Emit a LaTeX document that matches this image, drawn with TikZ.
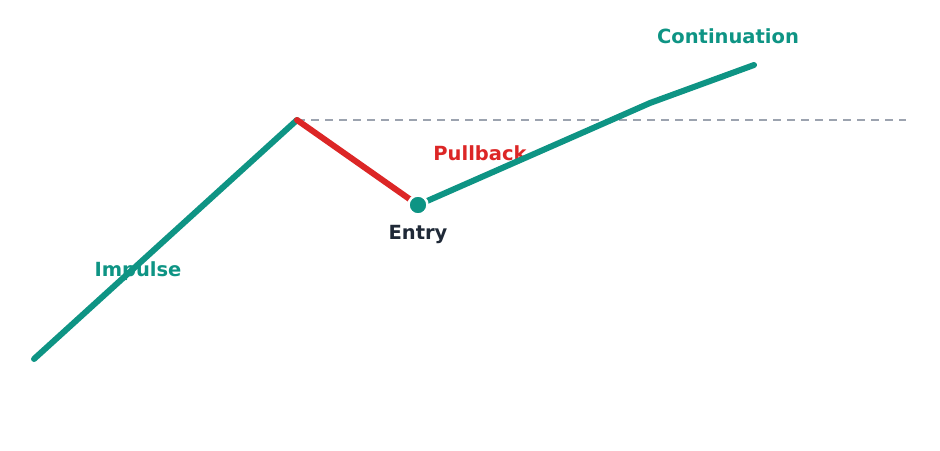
\documentclass[tikz,border=0pt]{standalone}
\usepackage{fontspec}
\setmainfont{DejaVu Sans}
\usepackage{tikz}
\usetikzlibrary{positioning}
\definecolor{trendteal}{HTML}{0E9484}
\definecolor{pullred}{HTML}{DC2626}
\definecolor{levelgray}{HTML}{9CA3AF}
\definecolor{entryink}{HTML}{1F2937}
\tikzset{lbl/.style={font=\fontsize{19.5}{22}\selectfont\bfseries},
  leg/.style={line width=6pt,line cap=round,line join=round}}
\begin{document}
\begin{tikzpicture}[x=1pt,y=-1pt]

  \useasboundingbox (0,0) rectangle (940,450);

  \coordinate (start) at (34,359);
  \coordinate (peak) at (297,120);
  \coordinate (entry) at (418,205);
  \coordinate (bend) at (650,103);
  \coordinate (top) at (754,65);
  \coordinate (level) at (906,120);

  \node [lbl,text=trendteal] (impulse) at (138,271) {Impulse};
  \node [lbl,text=pullred] (pullback) at (480,153) {Pullback};
  \node [lbl,text=entryink] (entrylbl) at (418,234) {Entry};
  \node [lbl,text=trendteal] (cont) at (728,36) {Continuation};

  \draw [levelgray,line width=1.8pt,dash pattern=on 8pt off 6pt] (peak) -- (level);

  \draw [leg,trendteal] (start) -- (peak);
  \draw [leg,pullred] (peak) -- (entry);
  \draw [leg,trendteal] (entry) -- (bend) -- (top);

  \node [circle,fill=trendteal,draw=white,line width=2.5pt,minimum size=19pt,inner sep=0pt] (dot) at (entry) {};

\end{tikzpicture}
\end{document}
